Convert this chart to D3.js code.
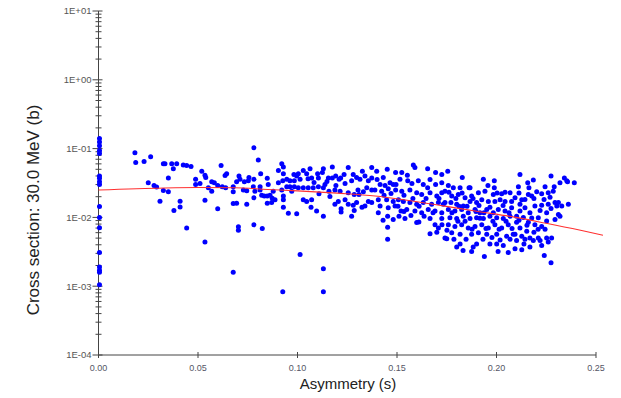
<!DOCTYPE html>
<html>
<head>
<meta charset="utf-8">
<script src="https://cdn.jsdelivr.net/npm/d3@7"></script>
<style>
  body { margin: 0; background: #fff; }
  text { font-family: "Liberation Sans", Arial, sans-serif; }
</style>
</head>
<body>
<div id="chart"></div>
<script>
// axis ticks
const xTicks = [0, 0.05, 0.10, 0.15, 0.20, 0.25];
const xTickLabels = ["0.00", "0.05", "0.10", "0.15", "0.20", "0.25"];
const yTicks = [10, 1, 0.1, 0.01, 0.001, 0.0001];
const yTickLabels = ["1E+01", "1E+00", "1E-01", "1E-02", "1E-03", "1E-04"];

// fitted trend (red)
const fitAsymmetry = [0, 0.033, 0.05, 0.068, 0.085, 0.10, 0.12, 0.139, 0.155, 0.174, 0.19, 0.209, 0.225, 0.2445, 0.2535];
const fitCrossSection = [0.0250, 0.0268, 0.0272, 0.0270, 0.0255, 0.0243, 0.0225, 0.0205, 0.0178, 0.0146, 0.0123, 0.0101, 0.0082, 0.0063, 0.0055];

// measured points: [asymmetry, cross section]
const scatterPoints = [
  [0.0005,0.14],[0.0005,0.125],[0.0005,0.11],[0.0005,0.094],[0.0005,0.085],[0.0005,0.04],[0.0005,0.037],
  [0.0005,0.033],[0.0005,0.03],[0.0005,0.0144],[0.0005,0.01],[0.0005,0.0071],[0.0005,0.0031],[0.0005,0.0019],
  [0.0005,0.0017],[0.0005,0.0016],[0.0005,0.00105],
  [0.0183,0.087],[0.0187,0.063],[0.0229,0.065],[0.0262,0.076],[0.0326,0.060],[0.025,0.032],[0.0279,0.029],
  [0.0292,0.0277],[0.0326,0.0247],[0.0309,0.0171],
  [0.0334,0.060],[0.0368,0.060],[0.0393,0.060],[0.0426,0.058],[0.0443,0.057],[0.0465,0.055],[0.0376,0.051],
  [0.0351,0.0375],[0.0351,0.0235],[0.0616,0.057],[0.0644,0.043],[0.0636,0.0405],[0.0519,0.047],[0.0535,0.041],
  [0.0539,0.038],[0.0488,0.036],[0.0488,0.030],[0.051,0.031],[0.0569,0.033],[0.0582,0.032],[0.0552,0.027],
  [0.0569,0.024],[0.0599,0.029],[0.0622,0.028],[0.0639,0.027],[0.0677,0.028],[0.0677,0.0235],[0.0677,0.0159],
  [0.0535,0.0177],[0.0599,0.0134],[0.041,0.0171],[0.041,0.0142],[0.0379,0.0126],[0.0443,0.0070],[0.0535,0.0044],
  [0.0677,0.0016],
  [0.0781,0.103],[0.0803,0.068],[0.0815,0.043],[0.0706,0.040],[0.0711,0.036],[0.0694,0.033],[0.0733,0.033],
  [0.0756,0.038],[0.0753,0.034],[0.0781,0.036],[0.0778,0.028],[0.0812,0.028],[0.0728,0.025],[0.0745,0.0245],
  [0.0786,0.024],[0.0812,0.025],[0.0848,0.037],[0.0853,0.030],[0.0878,0.024],[0.082,0.021],[0.0833,0.0205],
  [0.0848,0.0205],[0.0862,0.021],[0.0873,0.019],[0.0887,0.018],[0.087,0.0165],[0.0848,0.016],[0.0781,0.0193],
  [0.0745,0.0155],[0.0694,0.016],[0.0781,0.0078],[0.0823,0.0069],[0.0703,0.0073],[0.0703,0.0065],
  [0.0904,0.048],[0.0921,0.060],[0.0929,0.054],[0.0929,0.043],[0.0904,0.032],[0.0926,0.034],[0.0946,0.036],
  [0.0962,0.034],[0.0982,0.042],[0.0996,0.040],[0.1004,0.043],[0.1013,0.036],[0.0984,0.034],[0.0946,0.028],
  [0.0962,0.028],[0.0984,0.028],[0.1004,0.027],[0.1029,0.027],[0.0921,0.025],[0.0929,0.0205],[0.0929,0.018],
  [0.0929,0.014],[0.0954,0.0115],[0.0996,0.0113],[0.1029,0.018],[0.0971,0.024],[0.1013,0.0029],[0.0926,0.00083],
  [0.1029,0.048],[0.113,0.00083],[0.113,0.0018],
  [0.1063,0.051],[0.1046,0.043],[0.1071,0.0375],[0.1101,0.043],[0.1105,0.0375],[0.113,0.051],[0.1125,0.045],
  [0.1175,0.054],[0.1155,0.0375],[0.1175,0.0375],[0.1192,0.040],[0.1209,0.036],[0.1217,0.0375],[0.1255,0.053],
  [0.128,0.042],[0.1297,0.038],[0.1314,0.036],[0.1326,0.047],[0.1339,0.040],[0.1373,0.053],[0.1373,0.0375],
  [0.1356,0.034],[0.1054,0.027],[0.1079,0.027],[0.1105,0.028],[0.113,0.027],[0.1138,0.030],[0.1158,0.024],
  [0.1188,0.025],[0.1214,0.024],[0.1239,0.031],[0.1272,0.034],[0.1255,0.0228],[0.1285,0.0215],[0.1309,0.0215],
  [0.1331,0.0235],[0.1348,0.027],[0.1373,0.025],[0.1071,0.018],[0.1046,0.017],[0.1108,0.022],[0.1205,0.017],
  [0.1188,0.0155],[0.1219,0.0134],[0.1219,0.012],[0.1239,0.018],[0.1255,0.0155],[0.128,0.015],[0.1297,0.0165],
  [0.1285,0.0126],[0.1339,0.0146],[0.1356,0.017],[0.1373,0.0165],[0.1068,0.014],[0.1096,0.0124],[0.113,0.0104],
  [0.1272,0.0104],
  [0.1083,0.0321],[0.1148,0.0332],[0.1234,0.0420],[0.1304,0.0250],[0.1163,0.0201],[0.1324,0.0140],[0.1053,0.0366],
  [0.1193,0.0290],
  [0.1582,0.058],[0.159,0.053],[0.1654,0.051],[0.1451,0.050],[0.1398,0.047],[0.1431,0.038],[0.1493,0.045],
  [0.1524,0.045],[0.1552,0.041],[0.1694,0.045],[0.1725,0.042],[0.1515,0.036],[0.1465,0.032],[0.1481,0.030],
  [0.1415,0.030],[0.1554,0.034],[0.1607,0.034],[0.1632,0.030],[0.1654,0.027],[0.1694,0.030],[0.1725,0.032],
  [0.1389,0.025],[0.1423,0.024],[0.1456,0.026],[0.1493,0.025],[0.1524,0.024],[0.1565,0.025],[0.1599,0.0228],
  [0.1624,0.0215],[0.1666,0.0228],[0.17,0.0205],[0.1725,0.0228],[0.1406,0.018],[0.1448,0.018],[0.1481,0.017],
  [0.1507,0.018],[0.1532,0.017],[0.1565,0.0165],[0.1599,0.0155],[0.1632,0.0165],[0.1674,0.0155],[0.1708,0.0165],
  [0.1733,0.0155],[0.1415,0.0146],[0.1456,0.0138],[0.149,0.0146],[0.152,0.0124],[0.1549,0.013],[0.159,0.0124],
  [0.1624,0.0117],[0.1657,0.013],[0.1691,0.0124],[0.1725,0.0117],[0.1406,0.0117],[0.1453,0.0104],[0.1481,0.0093],
  [0.154,0.0096],[0.1599,0.0084],[0.161,0.0086],[0.1666,0.0096],[0.1691,0.0078],[0.1708,0.0070],[0.1666,0.0058],
  [0.17,0.0061],[0.1453,0.0072],[0.1453,0.0048],[0.1741,0.0050],[0.1725,0.0096],
  [0.1435,0.0210],[0.1470,0.0222],[0.1505,0.0145],[0.1535,0.0210],[0.1580,0.0188],[0.1611,0.0145],[0.1646,0.0188],
  [0.1681,0.0117],[0.1711,0.0188],[0.1430,0.0091],[0.1510,0.0104],[0.1570,0.0107],[0.1636,0.0104],[0.1726,0.0078],
  [0.1495,0.0300],[0.1575,0.0310],[0.1666,0.0355],[0.1400,0.0355],[0.1535,0.0122],[0.1440,0.0290],
  [0.1828,0.038],[0.1934,0.036],[0.1989,0.034],[0.1758,0.029],[0.1783,0.027],[0.1817,0.027],[0.1862,0.027],
  [0.1741,0.024],[0.1775,0.0205],[0.1808,0.0215],[0.1842,0.0193],[0.1909,0.0228],[0.1942,0.024],[0.1989,0.027],
  [0.1984,0.0215],[0.2026,0.022],[0.2068,0.0228],[0.1875,0.0205],[0.1741,0.0165],[0.1771,0.0165],[0.18,0.0155],
  [0.1833,0.0146],[0.1867,0.017],[0.19,0.0165],[0.1926,0.018],[0.1959,0.017],[0.1992,0.017],[0.2018,0.018],
  [0.2043,0.017],[0.2076,0.017],[0.1758,0.013],[0.1791,0.0124],[0.1825,0.013],[0.1858,0.0117],[0.1892,0.013],
  [0.1917,0.0117],[0.1951,0.013],[0.1984,0.0117],[0.2009,0.013],[0.2043,0.0124],[0.2076,0.0138],[0.1766,0.0099],
  [0.18,0.0096],[0.1833,0.0104],[0.1867,0.0096],[0.19,0.0099],[0.1934,0.0096],[0.1967,0.0104],[0.2001,0.0099],
  [0.2034,0.0096],[0.2068,0.0104],[0.1758,0.0078],[0.1791,0.0074],[0.1825,0.0078],[0.1858,0.0070],[0.1892,0.0074],
  [0.1926,0.0078],[0.1959,0.0070],[0.1992,0.0078],[0.2026,0.0070],[0.2059,0.0078],[0.1775,0.0060],[0.1817,0.0057],
  [0.1875,0.0057],[0.1909,0.0060],[0.1951,0.0057],[0.2001,0.0057],[0.2051,0.0053],[0.2084,0.0057],[0.175,0.0049],
  [0.1817,0.0041],[0.18,0.0037],[0.19,0.0041],[0.1883,0.0037],[0.1875,0.0032],[0.1967,0.0041],[0.2001,0.0041],
  [0.2034,0.0039],[0.2059,0.0031],[0.1939,0.0027],[0.1755,0.047],[0.1867,0.027],
  [0.1761,0.0233],[0.1796,0.0188],[0.1827,0.0226],[0.1852,0.0145],[0.1882,0.0188],[0.1912,0.0149],[0.1937,0.0117],
  [0.1967,0.0140],[0.2003,0.0226],[0.2033,0.0149],[0.2063,0.0117],[0.1776,0.0117],[0.1806,0.0088],[0.1842,0.0088],
  [0.1877,0.0067],[0.1917,0.0097],[0.1947,0.0069],[0.1982,0.0088],[0.2013,0.0067],[0.2048,0.0088],[0.2078,0.0069],
  [0.1751,0.0065],[0.1786,0.0048],[0.1847,0.0048],[0.1932,0.0048],[0.1977,0.0051],[0.2018,0.0047],[0.2068,0.0048],
  [0.1832,0.0033],[0.2008,0.0032],[0.1897,0.0122],[0.1812,0.0145],[0.2043,0.0233],[0.1957,0.0290],
  [0.2118,0.042],[0.2274,0.040],[0.2341,0.0375],[0.2353,0.034],[0.2319,0.032],[0.2391,0.032],[0.2185,0.035],
  [0.2157,0.032],[0.211,0.028],[0.2163,0.027],[0.2244,0.028],[0.229,0.028],[0.2202,0.0235],[0.216,0.0215],
  [0.2177,0.0205],[0.2227,0.022],[0.226,0.0228],[0.2285,0.024],[0.2093,0.0193],[0.2127,0.018],[0.2269,0.0197],
  [0.2294,0.0165],[0.2303,0.0146],[0.2328,0.0146],[0.2361,0.0155],[0.226,0.0155],[0.2227,0.015],[0.2193,0.0146],
  [0.2118,0.0155],[0.2143,0.0138],[0.2118,0.0124],[0.2168,0.0117],[0.2252,0.0117],[0.2311,0.011],[0.2319,0.0104],
  [0.2101,0.0104],[0.2135,0.010],[0.2177,0.0098],[0.221,0.0099],[0.2252,0.0089],[0.2101,0.0085],[0.216,0.0085],
  [0.2193,0.0078],[0.2227,0.0074],[0.2118,0.0070],[0.2152,0.0063],[0.2093,0.0057],[0.2127,0.0053],[0.2168,0.0050],
  [0.221,0.0050],[0.2252,0.0050],[0.2277,0.0050],[0.2101,0.0046],[0.2143,0.0048],[0.2185,0.0046],[0.2219,0.0046],
  [0.226,0.0044],[0.2168,0.0037],[0.2227,0.0039],[0.2093,0.0035],[0.2127,0.0034],[0.224,0.0028],[0.2274,0.0022],
  [0.2311,0.0165],[0.2357,0.033],
  [0.2113,0.0226],[0.2143,0.0182],[0.2188,0.0188],[0.2219,0.0126],[0.2239,0.0182],[0.2209,0.0067],[0.2113,0.0091],
  [0.2153,0.0077],[0.2188,0.0061],[0.2244,0.0067],[0.2138,0.0041],[0.2294,0.0093],[0.2274,0.0135]
];

const width = 621, height = 398;

const svg = d3.select("#chart")
  .append("svg")
  .attr("width", width)
  .attr("height", height);

const x = d3.scaleLinear().domain([0, 0.25]).range([98.5, 596]);
const y = d3.scaleLog().domain([1e-4, 10]).range([355, 11]);

const axisColor = "#444";

// y axis with log minor ticks
const minorTicks = [];
for (let e = -4; e < 1; e++) {
  for (let m = 2; m <= 9; m++) minorTicks.push(m * Math.pow(10, e));
}

const yAxis = svg.append("g").attr("transform", `translate(${x(0)},0)`);
yAxis.append("line")
  .attr("y1", y(10)).attr("y2", y(1e-4))
  .attr("stroke", axisColor);
yAxis.selectAll(".minor")
  .data(minorTicks)
  .enter().append("line")
  .attr("x1", -3).attr("x2", 3)
  .attr("y1", d => y(d)).attr("y2", d => y(d))
  .attr("stroke", axisColor);
yAxis.selectAll(".major")
  .data(yTicks)
  .enter().append("line")
  .attr("x1", -6).attr("x2", 4)
  .attr("y1", d => y(d)).attr("y2", d => y(d))
  .attr("stroke", axisColor);
yAxis.selectAll(".ylab")
  .data(yTicks)
  .enter().append("text")
  .attr("x", -7)
  .attr("y", d => y(d))
  .attr("dy", "0.35em")
  .attr("text-anchor", "end")
  .attr("font-size", 9.5)
  .attr("fill", "#555")
  .text((d, i) => yTickLabels[i]);

// x axis
const xAxis = svg.append("g").attr("transform", `translate(0,${y(1e-4)})`);
xAxis.append("line")
  .attr("x1", x(0)).attr("x2", x(0.25))
  .attr("stroke", axisColor);
xAxis.selectAll(".xt")
  .data(xTicks)
  .enter().append("line")
  .attr("x1", d => x(d)).attr("x2", d => x(d))
  .attr("y1", -3).attr("y2", 3)
  .attr("stroke", axisColor);
xAxis.selectAll(".xlab")
  .data(xTicks)
  .enter().append("text")
  .attr("x", d => x(d))
  .attr("y", 16)
  .attr("text-anchor", "middle")
  .attr("font-size", 9)
  .attr("fill", "#556")
  .text((d, i) => xTickLabels[i]);

// titles
svg.append("text")
  .attr("x", 348)
  .attr("y", 389)
  .attr("text-anchor", "middle")
  .attr("font-size", 15)
  .attr("fill", "#222")
  .text("Asymmetry (s)");

svg.append("text")
  .attr("transform", "translate(39,210) rotate(-90)")
  .attr("text-anchor", "middle")
  .attr("font-size", 17)
  .attr("fill", "#222")
  .text("Cross section: 30.0 MeV (b)");

// points
svg.append("g")
  .selectAll("circle")
  .data(scatterPoints)
  .enter().append("circle")
  .attr("cx", d => x(d[0]))
  .attr("cy", d => y(d[1]))
  .attr("r", 2.5)
  .attr("fill", "#0000ff");

// fitted curve
const line = d3.line()
  .x(d => x(d[0]))
  .y(d => y(d[1]))
  .curve(d3.curveMonotoneX);

svg.append("path")
  .datum(fitAsymmetry.map((s, i) => [s, fitCrossSection[i]]))
  .attr("d", line)
  .attr("fill", "none")
  .attr("stroke", "#ff3030")
  .attr("stroke-width", 1.1);
</script>
</body>
</html>
